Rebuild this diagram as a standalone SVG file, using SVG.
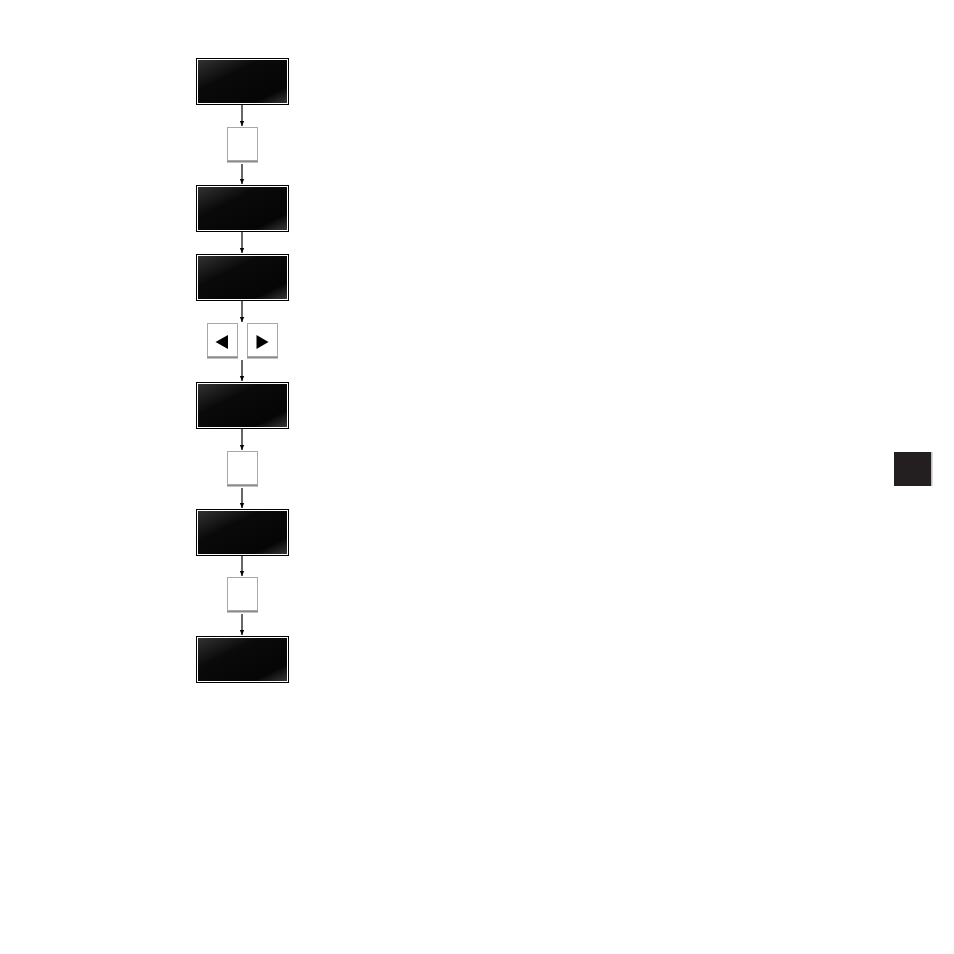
<svg xmlns="http://www.w3.org/2000/svg" width="954" height="954" viewBox="0 0 954 954">
<defs>
<linearGradient id="scr" x1="0" y1="0" x2="1" y2="1">
<stop offset="0" stop-color="#333"/>
<stop offset="0.35" stop-color="#0a0a0a"/>
<stop offset="0.8" stop-color="#050505"/>
<stop offset="1" stop-color="#3a3a3a"/>
</linearGradient>
<marker id="ah" markerWidth="6" markerHeight="6" refX="5" refY="3" orient="auto" markerUnits="userSpaceOnUse">
<path d="M0,0.8 L5,3 L0,5.2 Z" fill="#000"/>
</marker>
</defs>
<style>
.disp-outer{fill:#000;}
.disp-inner{fill:url(#scr);stroke:#fff;stroke-width:1;}
.key{fill:#fff;stroke:#a8a8a8;stroke-width:1;}
.key-shadow{fill:#8a8a8a;}
.conn{stroke:#000;stroke-width:1.2;fill:none;}
.tri{fill:#000;}
</style>
<rect width="954" height="954" fill="#fff"/>

<g id="display1"><rect class="disp-outer" x="196" y="58" width="93" height="47"/><rect class="disp-inner" x="197.5" y="59.5" width="90" height="44"/></g>
<g id="key1"><rect class="key-shadow" x="227" y="159.5" width="31" height="3"/><rect class="key" x="227.5" y="127.5" width="30" height="33"/></g>
<g id="display2"><rect class="disp-outer" x="196" y="185" width="93" height="47"/><rect class="disp-inner" x="197.5" y="186.5" width="90" height="44"/></g>
<g id="display3"><rect class="disp-outer" x="196" y="254" width="93" height="47"/><rect class="disp-inner" x="197.5" y="255.5" width="90" height="44"/></g>
<g id="key-left"><rect class="key-shadow" x="207" y="355.5" width="31" height="3"/><rect class="key" x="207.5" y="323.5" width="30" height="33"/><path class="tri" d="M215.5,342 L228,335 L228,349 Z"/></g>
<g id="key-right"><rect class="key-shadow" x="247" y="355.5" width="31" height="3"/><rect class="key" x="247.5" y="323.5" width="30" height="33"/><path class="tri" d="M268.5,342 L256.5,335 L256.5,349 Z"/></g>
<g id="display4"><rect class="disp-outer" x="196" y="382" width="93" height="47"/><rect class="disp-inner" x="197.5" y="383.5" width="90" height="44"/></g>
<g id="key2"><rect class="key-shadow" x="227" y="483.5" width="31" height="3"/><rect class="key" x="227.5" y="451.5" width="30" height="33"/></g>
<g id="display5"><rect class="disp-outer" x="196" y="509" width="93" height="47"/><rect class="disp-inner" x="197.5" y="510.5" width="90" height="44"/></g>
<g id="key3"><rect class="key-shadow" x="227" y="609.5" width="31" height="3"/><rect class="key" x="227.5" y="577.5" width="30" height="33"/></g>
<g id="display6"><rect class="disp-outer" x="196" y="636" width="93" height="47"/><rect class="disp-inner" x="197.5" y="637.5" width="90" height="44"/></g>

<g id="tab"><rect x="894" y="452" width="37" height="34" fill="#231f20"/><rect x="931" y="452" width="1.5" height="34" fill="#bdbdbd"/></g>

<g id="connectors">
<line class="conn" x1="242" y1="105" x2="242" y2="126" marker-end="url(#ah)"/>
<line class="conn" x1="242" y1="164" x2="242" y2="184" marker-end="url(#ah)"/>
<line class="conn" x1="242" y1="232" x2="242" y2="253" marker-end="url(#ah)"/>
<line class="conn" x1="242" y1="301" x2="242" y2="322" marker-end="url(#ah)"/>
<line class="conn" x1="242" y1="360" x2="242" y2="381" marker-end="url(#ah)"/>
<line class="conn" x1="242" y1="429" x2="242" y2="450" marker-end="url(#ah)"/>
<line class="conn" x1="242" y1="488" x2="242" y2="508" marker-end="url(#ah)"/>
<line class="conn" x1="242" y1="556" x2="242" y2="576" marker-end="url(#ah)"/>
<line class="conn" x1="242" y1="614" x2="242" y2="635" marker-end="url(#ah)"/>
</g>
</svg>
